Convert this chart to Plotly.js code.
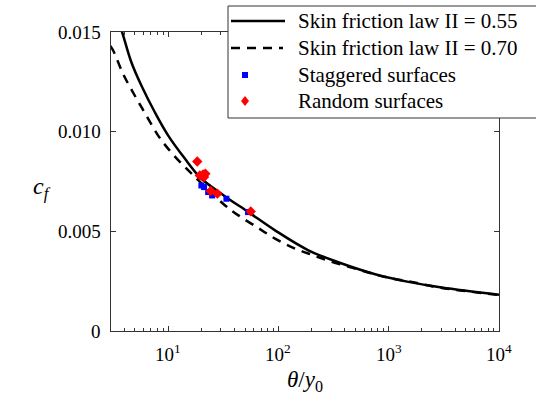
<!DOCTYPE html>
<html>
<head>
<meta charset="utf-8">
<script src="https://cdn.plot.ly/plotly-3.0.1.min.js"></script>
<style>html,body{margin:0;padding:0;background:#fff;}#chart{width:536px;height:400px;}</style>
</head>
<body>
<div id="chart"></div>
<script>
// Skin friction law, Pi = 0.55 (solid)
const lawA_x = [3.4, 3.83, 4.65, 5.73, 7.57, 10, 14.2, 20.0, 32.7, 53.5, 93.3, 187, 376, 754, 1510, 3027, 10000];
const lawA_cf = [0.0158, 0.0150, 0.013485, 0.012315, 0.010985, 0.009815, 0.00865, 0.00765, 0.006765, 0.005965, 0.00505, 0.00405, 0.003385, 0.00285, 0.002465, 0.002185, 0.00182];
// Skin friction law, Pi = 0.70 (dashed)
const lawB_x = [3.0, 3.24, 3.91, 4.99, 6.35, 8.11, 10, 12.8, 16.9, 32.9, 43.4, 63.7, 93.3, 141.6, 207, 305, 462, 703, 1067, 1618, 2460, 3733, 5672, 10000];
const lawB_cf = [0.0143, 0.013985, 0.0129, 0.011815, 0.010815, 0.009815, 0.00915, 0.008485, 0.007815, 0.0063, 0.0058, 0.005215, 0.004635, 0.004135, 0.0038, 0.003465, 0.003185, 0.002885, 0.002635, 0.002465, 0.00225, 0.002085, 0.001965, 0.0018];
// Staggered surfaces
const stag_x = [20.05, 21.2, 23.1, 25.1, 33.8, 53.1];
const stag_cf = [0.0073, 0.00722, 0.00697, 0.0068, 0.006635, 0.005965];
// Random surfaces
const rand_x = [18.4, 19.4, 20.8, 21.8, 21.2, 24.4, 28.0, 56.2];
const rand_cf = [0.0085, 0.0078, 0.00785, 0.00789, 0.00772, 0.00702, 0.00689, 0.0060];

const seriesNames = ['Skin friction law II = 0.55', 'Skin friction law II = 0.70', 'Staggered surfaces', 'Random surfaces'];
const xTickVals = [10, 100, 1000, 10000];
const xTickText = ['10<sup>1</sup>', '10<sup>2</sup>', '10<sup>3</sup>', '10<sup>4</sup>'];
const xMinorVals = [4,5,6,7,8,9,20,30,40,50,60,70,80,90,200,300,400,500,600,700,800,900,2000,3000,4000,5000,6000,7000,8000,9000];
const yTickVals = [0, 0.005, 0.010, 0.015];
const yTickText = ['0', '0.005', '0.010', '0.015'];

const FONT = 'Liberation Serif';
// plot area in pixels: left 111, right 499, top 32, bottom 331
const px2x = p => (p - 111) / 388;
const px2y = p => (331 - p) / 299;

const traces = [
  {x: lawA_x, y: lawA_cf, mode: 'lines', name: seriesNames[0],
   line: {color: '#000', width: 2.5, shape: 'spline'}},
  {x: lawB_x, y: lawB_cf, mode: 'lines', name: seriesNames[1],
   line: {color: '#000', width: 2.5, dash: '9px,7px', shape: 'spline'}},
  {x: stag_x, y: stag_cf, mode: 'markers', name: seriesNames[2],
   marker: {symbol: 'square', color: '#0000ff', size: 6}},
  {x: rand_x, y: rand_cf, mode: 'markers', name: seriesNames[3],
   marker: {symbol: 'diamond', color: '#ff0000', size: 8}}
];

const annotations = [];
// x tick labels
xTickVals.forEach((v, i) => annotations.push({text: xTickText[i], xref: 'x', yref: 'paper',
  x: Math.log10(v), y: -0.028, xanchor: 'center', yanchor: 'top', showarrow: false,
  font: {family: FONT, size: 19, color: '#000'}}));
// y tick labels
yTickVals.forEach((v, i) => annotations.push({text: yTickText[i], xref: 'paper', yref: 'y',
  x: px2x(103), y: v, xanchor: 'right', yanchor: 'middle', showarrow: false,
  font: {family: FONT, size: 19, color: '#000'}}));
// axis titles
annotations.push({text: '<i>θ</i>/<i>y</i><sub>0</sub>', xref: 'paper', yref: 'paper',
  x: 0.5, y: px2y(381), xanchor: 'center', yanchor: 'middle', showarrow: false,
  font: {family: FONT, size: 23, color: '#000'}});
annotations.push({text: '<i>c</i><sub><i>f</i></sub>', xref: 'paper', yref: 'paper',
  x: px2x(42), y: px2y(188), xanchor: 'center', yanchor: 'middle', showarrow: false,
  font: {family: FONT, size: 24, color: '#000'}});
// legend labels
const legRows = [21, 48, 75, 101];
seriesNames.forEach((n, i) => annotations.push({text: n, xref: 'paper', yref: 'paper',
  x: px2x(296), y: px2y(legRows[i]), xanchor: 'left', yanchor: 'middle', showarrow: false,
  font: {family: FONT, size: 21, color: '#000'}}));

const shapes = [
  {type: 'rect', xref: 'paper', yref: 'paper', x0: px2x(228), x1: px2x(548), y0: px2y(118), y1: px2y(6),
   fillcolor: '#fff', line: {color: '#333', width: 1}, layer: 'above'},
  {type: 'line', xref: 'paper', yref: 'paper', x0: px2x(231), x1: px2x(285), y0: px2y(legRows[0]), y1: px2y(legRows[0]),
   line: {color: '#000', width: 2.5}, layer: 'above'},
  {type: 'line', xref: 'paper', yref: 'paper', x0: px2x(231), x1: px2x(283), y0: px2y(legRows[1]), y1: px2y(legRows[1]),
   line: {color: '#000', width: 2.5, dash: '9px,7px'}, layer: 'above'},
  {type: 'rect', xref: 'paper', yref: 'paper', x0: px2x(242), x1: px2x(248), y0: px2y(legRows[2] + 3), y1: px2y(legRows[2] - 3),
   fillcolor: '#0000ff', line: {width: 0}, layer: 'above'},
  {type: 'path', xref: 'paper', yref: 'paper', layer: 'above', fillcolor: '#ff0000', line: {width: 0},
   path: `M ${px2x(245)},${px2y(legRows[3] - 5)} L ${px2x(249)},${px2y(legRows[3])} L ${px2x(245)},${px2y(legRows[3] + 5)} L ${px2x(241)},${px2y(legRows[3])} Z`}
];

const layout = {
  width: 536, height: 400,
  margin: {l: 111, r: 37, t: 32, b: 69, autoexpand: false},
  paper_bgcolor: '#fff', plot_bgcolor: '#fff',
  showlegend: false,
  xaxis: {type: 'log', range: [Math.log10(3.04), 4],
    tickmode: 'array', tickvals: xTickVals, showticklabels: false,
    ticks: 'inside', ticklen: 5, tickcolor: '#333', mirror: 'ticks',
    showline: true, linecolor: '#333', linewidth: 1, showgrid: false, zeroline: false,
    minor: {tickmode: 'array', tickvals: xMinorVals, ticks: 'inside', ticklen: 3, tickcolor: '#333', showgrid: false}},
  yaxis: {range: [0, 0.015], tickmode: 'array', tickvals: yTickVals, showticklabels: false,
    ticks: 'inside', ticklen: 5, tickcolor: '#333', mirror: 'ticks',
    showline: true, linecolor: '#333', linewidth: 1, showgrid: false, zeroline: false},
  annotations: annotations,
  shapes: shapes
};

Plotly.newPlot('chart', traces, layout, {displayModeBar: false, staticPlot: true});
</script>
</body>
</html>
